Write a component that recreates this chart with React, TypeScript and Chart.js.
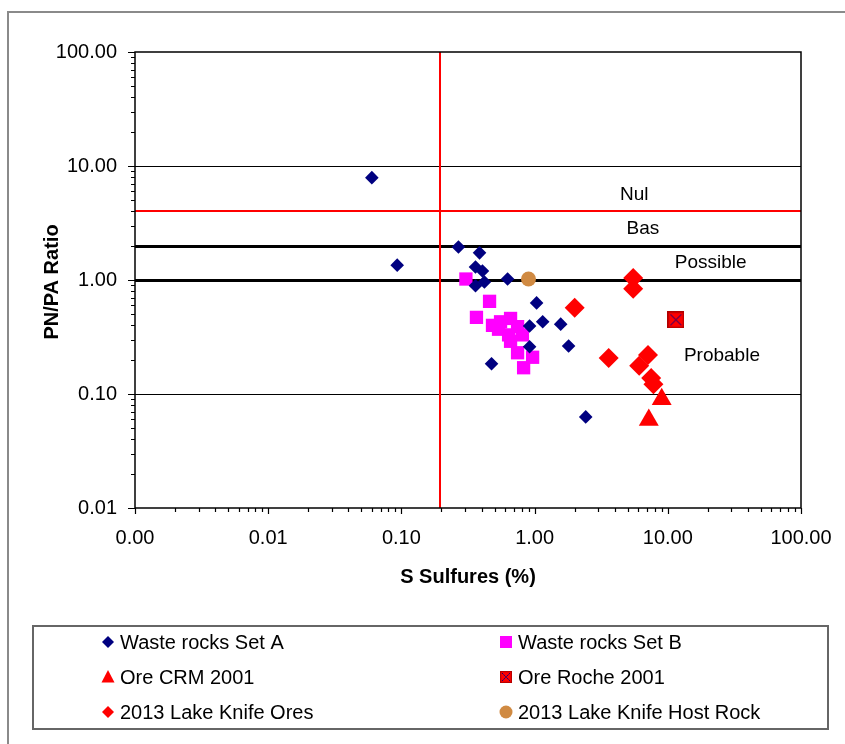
import React, { useEffect, useRef } from 'react';
import { Chart, registerables } from 'chart.js';

Chart.register(...registerables);

// ---- data ----
const setAX = [0.06, 0.093, 0.268, 0.386, 0.36, 0.406, 0.36, 0.42, 0.627, 1.035, 0.917, 1.15, 1.57, 1.8, 0.917, 0.475, 2.42];
const setAY = [7.9, 1.35, 1.95, 1.73, 1.3, 1.2, 0.89, 0.96, 1.02, 0.63, 0.395, 0.43, 0.41, 0.264, 0.26, 0.184, 0.063];

const setBX = [0.305, 0.459, 0.366, 0.483, 0.555, 0.66, 0.536, 0.745, 0.638, 0.66, 0.745, 0.966, 0.827, 0.81];
const setBY = [1.02, 0.65, 0.47, 0.4, 0.43, 0.46, 0.37, 0.39, 0.33, 0.29, 0.23, 0.21, 0.17, 0.33];

const crmX = [9.0, 7.2];
const crmY = [0.09, 0.059];

const rocheX = [11.5];
const rocheY = [0.447];

const lkOresX = [2.0, 5.5, 5.5, 3.6, 7.1, 6.1, 7.5, 7.8];
const lkOresY = [0.57, 1.04, 0.84, 0.207, 0.22, 0.177, 0.138, 0.122];

const hostX = [0.9];
const hostY = [1.02];

const seriesNames = [
  'Waste rocks Set A',
  'Waste rocks Set B',
  'Ore CRM 2001',
  'Ore Roche 2001',
  '2013 Lake Knife Ores',
  '2013 Lake Knife Host Rock',
];

const xMin = 0.001;
const xMax = 100;
const yMin = 0.01;
const yMax = 100;

const thinGridY = [10, 0.1];
const thickGridY = [2, 1];
const redLineY = [4];
const redLineX = [0.2];

const zoneLabels = ['Nul', 'Bas', 'Possible', 'Probable'];
const zoneLabelX = [5.6, 6.5, 21.0, 25.5];
const zoneLabelY = [5.57, 2.8, 1.41, 0.215];

const xTitle = 'S Sulfures (%)';
const yTitle = 'PN/PA Ratio';

const FONT = "'Liberation Sans', Arial, sans-serif";
const NAVY = '#000080';
const MAGENTA = '#FF00FF';
const RED = '#FF0000';
const ORANGE = '#D08A42';

function pts(xs: number[], ys: number[]) {
  return xs.map((x, i) => ({ x, y: ys[i] }));
}

function isPow10(v: number) {
  const l = Math.log10(v);
  return Math.abs(l - Math.round(l)) < 1e-9;
}
function isIntMantissa(v: number) {
  const e = Math.floor(Math.log10(v) + 1e-9);
  const m = v / Math.pow(10, e);
  return Math.abs(m - Math.round(m)) < 1e-6;
}

function makeRocheImage(size: number) {
  const c = document.createElement('canvas');
  c.width = size;
  c.height = size;
  const g = c.getContext('2d')!;
  g.fillStyle = RED;
  g.fillRect(0, 0, size, size);
  g.strokeStyle = '#B00000';
  g.lineWidth = 1.5;
  g.strokeRect(0.75, 0.75, size - 1.5, size - 1.5);
  g.strokeStyle = NAVY;
  g.lineWidth = 1;
  g.beginPath();
  g.moveTo(3, 3);
  g.lineTo(size - 3, size - 3);
  g.moveTo(size - 3, 3);
  g.lineTo(3, size - 3);
  g.stroke();
  return c;
}

function drawMarker(ctx: CanvasRenderingContext2D, kind: number, x: number, y: number, rocheImg: HTMLCanvasElement) {
  ctx.save();
  ctx.beginPath();
  if (kind === 0 || kind === 4) {
    const r = 6;
    ctx.fillStyle = kind === 0 ? NAVY : RED;
    ctx.moveTo(x - r, y);
    ctx.lineTo(x, y - r);
    ctx.lineTo(x + r, y);
    ctx.lineTo(x, y + r);
    ctx.closePath();
    ctx.fill();
  } else if (kind === 1) {
    ctx.fillStyle = MAGENTA;
    ctx.fillRect(x - 6, y - 6, 12, 12);
  } else if (kind === 2) {
    ctx.fillStyle = RED;
    ctx.moveTo(x, y - 7);
    ctx.lineTo(x + 6.5, y + 5.5);
    ctx.lineTo(x - 6.5, y + 5.5);
    ctx.closePath();
    ctx.fill();
  } else if (kind === 3) {
    ctx.drawImage(rocheImg, x - 6, y - 6, 12, 12);
  } else {
    ctx.fillStyle = ORANGE;
    ctx.arc(x, y, 6.5, 0, Math.PI * 2);
    ctx.fill();
  }
  ctx.restore();
}

export default function App() {
  const ref = useRef<HTMLCanvasElement>(null);

  useEffect(() => {
    if (!ref.current) return;
    const rocheImg = makeRocheImage(17);
    const rocheLegend = makeRocheImage(17);

    const decor = {
      id: 'decor',
      beforeDraw(chart: any) {
        const { ctx } = chart;
        ctx.save();
        ctx.fillStyle = '#fff';
        ctx.fillRect(0, 0, chart.width, chart.height);
        ctx.strokeStyle = '#8a8a8a';
        ctx.lineWidth = 2;
        ctx.strokeRect(8, 12, 900, 800);
        ctx.restore();
      },
      beforeDatasetsDraw(chart: any) {
        const { ctx, chartArea: a, scales } = chart;
        const xs = scales.x;
        const ys = scales.y;
        ctx.save();
        ctx.beginPath();
        ctx.rect(a.left, a.top, a.right - a.left, a.bottom - a.top);
        ctx.clip();
        const hLine = (v: number, color: string, w: number) => {
          const py = Math.round(ys.getPixelForValue(v)) + (w % 2 ? 0.5 : 0);
          ctx.strokeStyle = color;
          ctx.lineWidth = w;
          ctx.beginPath();
          ctx.moveTo(a.left, py);
          ctx.lineTo(a.right, py);
          ctx.stroke();
        };
        thinGridY.forEach((v) => hLine(v, '#000', 1));
        thickGridY.forEach((v) => hLine(v, '#000', 3));
        redLineY.forEach((v) => hLine(v, RED, 2));
        redLineX.forEach((v) => {
          const px = Math.round(xs.getPixelForValue(v)) - 1;
          ctx.strokeStyle = RED;
          ctx.lineWidth = 2;
          ctx.beginPath();
          ctx.moveTo(px, a.top);
          ctx.lineTo(px, a.bottom);
          ctx.stroke();
        });
        ctx.fillStyle = '#000';
        ctx.font = `19px ${FONT}`;
        ctx.textAlign = 'center';
        ctx.textBaseline = 'middle';
        zoneLabels.forEach((t, i) => {
          ctx.fillText(t, xs.getPixelForValue(zoneLabelX[i]), ys.getPixelForValue(zoneLabelY[i]));
        });
        ctx.restore();
      },
      afterDraw(chart: any) {
        const { ctx, chartArea: a, scales } = chart;
        const xs = scales.x;
        const ys = scales.y;
        ctx.save();
        // plot border
        ctx.strokeStyle = '#000';
        ctx.lineWidth = 1.5;
        ctx.strokeRect(a.left, a.top, a.right - a.left, a.bottom - a.top);
        // ticks
        ctx.lineWidth = 1.2;
        ctx.beginPath();
        ys.ticks.forEach((t: any) => {
          if (!isIntMantissa(t.value)) return;
          const py = Math.round(ys.getPixelForValue(t.value)) + 0.5;
          const len = isPow10(t.value) ? 7 : 4;
          ctx.moveTo(a.left - len, py);
          ctx.lineTo(a.left, py);
        });
        xs.ticks.forEach((t: any) => {
          if (!isIntMantissa(t.value)) return;
          const px = Math.round(xs.getPixelForValue(t.value)) + 0.5;
          const len = isPow10(t.value) ? 6 : 4;
          ctx.moveTo(px, a.bottom);
          ctx.lineTo(px, a.bottom + len);
        });
        ctx.stroke();
        // axis titles
        ctx.fillStyle = '#000';
        ctx.font = `bold 20px ${FONT}`;
        ctx.textAlign = 'center';
        ctx.textBaseline = 'middle';
        ctx.fillText(xTitle, (a.left + a.right) / 2, 577);
        ctx.save();
        ctx.translate(52, (a.top + a.bottom) / 2 + 2);
        ctx.rotate(-Math.PI / 2);
        ctx.fillText(yTitle, 0, 0);
        ctx.restore();
        // legend
        ctx.strokeStyle = '#666';
        ctx.lineWidth = 2;
        ctx.strokeRect(33, 626, 795, 103);
        const colMarker = [108, 506];
        const colText = [120, 518];
        const rowY = [642, 677, 712];
        ctx.font = `20px ${FONT}`;
        ctx.textAlign = 'left';
        ctx.textBaseline = 'middle';
        seriesNames.forEach((name, i) => {
          const col = i % 2;
          const row = Math.floor(i / 2);
          drawMarker(ctx, i, colMarker[col], rowY[row], rocheLegend);
          ctx.fillStyle = '#000';
          ctx.fillText(name, colText[col], rowY[row] + 1);
        });
        ctx.restore();
      },
    };

    const tickCb = (v: any) => {
      const n = Number(v);
      return isPow10(n) ? n.toFixed(2) : '';
    };

    const chart = new Chart(ref.current, {
      type: 'scatter',
      data: {
        datasets: [
          {
            label: seriesNames[0],
            data: pts(setAX, setAY),
            pointStyle: 'rectRot',
            pointRadius: 6.8,
            backgroundColor: NAVY,
            borderColor: NAVY,
            borderWidth: 0,
          },
          {
            label: seriesNames[1],
            data: pts(setBX, setBY),
            pointStyle: 'rect',
            pointRadius: 9.4,
            backgroundColor: MAGENTA,
            borderColor: MAGENTA,
            borderWidth: 0,
          },
          {
            label: seriesNames[2],
            data: pts(crmX, crmY),
            pointStyle: 'triangle',
            pointRadius: 11.5,
            backgroundColor: RED,
            borderColor: RED,
            borderWidth: 0,
          },
          {
            label: seriesNames[3],
            data: pts(rocheX, rocheY),
            pointStyle: rocheImg as any,
            pointRadius: 9,
            backgroundColor: RED,
            borderColor: RED,
            borderWidth: 0,
          },
          {
            label: seriesNames[4],
            data: pts(lkOresX, lkOresY),
            pointStyle: 'rectRot',
            pointRadius: 10,
            backgroundColor: RED,
            borderColor: RED,
            borderWidth: 0,
          },
          {
            label: seriesNames[5],
            data: pts(hostX, hostY),
            pointStyle: 'circle',
            pointRadius: 7.5,
            backgroundColor: ORANGE,
            borderColor: ORANGE,
            borderWidth: 0,
          },
        ],
      },
      options: {
        responsive: false,
        animation: false,
        devicePixelRatio: 1,
        layout: { padding: { left: 0, top: 52, right: 44, bottom: 154 } },
        plugins: {
          legend: { display: false },
          tooltip: { enabled: false },
        },
        scales: {
          x: {
            type: 'logarithmic',
            position: 'bottom',
            min: xMin,
            max: xMax,
            grid: { display: false, drawTicks: false },
            border: { display: false },
            ticks: {
              autoSkip: false,
              maxRotation: 0,
              padding: 18,
              color: '#000',
              font: { family: FONT, size: 20 },
              callback: tickCb,
            },
            afterFit: (s: any) => {
              s.height = 82;
              s.paddingLeft = 0;
              s.paddingRight = 0;
            },
          },
          y: {
            type: 'logarithmic',
            position: 'left',
            min: yMin,
            max: yMax,
            grid: { display: false, drawTicks: false },
            border: { display: false },
            ticks: {
              autoSkip: false,
              padding: 18,
              color: '#000',
              font: { family: FONT, size: 20 },
              callback: tickCb,
            },
            afterFit: (s: any) => {
              s.width = 135;
              s.paddingTop = 0;
              s.paddingBottom = 0;
            },
          },
        },
      },
      plugins: [decor],
    });
    return () => chart.destroy();
  }, []);

  return (
    <div style={{ position: 'fixed', left: 0, top: 0, width: 845, height: 744, background: '#fff' }}>
      <canvas ref={ref} width={845} height={744} style={{ display: 'block' }} />
    </div>
  );
}
